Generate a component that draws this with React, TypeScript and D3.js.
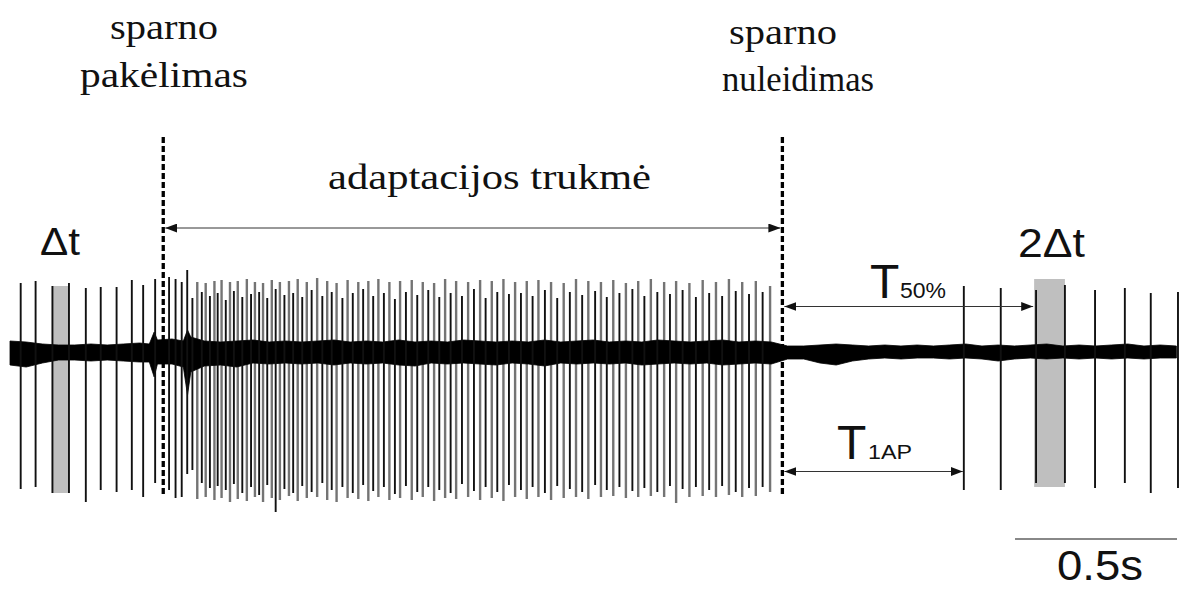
import React from "react";
import * as d3 from "d3";

// Spike train recorded around a wing lift (pakėlimas) and lowering (nuleidimas).
// Times in ms from the start of the sweep, amplitudes in µV.
const spikeTimes = [
  33, 79, 131, 182, 234, 280, 329, 376, 411, 448,
  491, 511, 530, 547, 563, 578, 592, 604, 617, 631,
  641, 653, 666, 679, 691, 703, 717, 731, 744, 756,
  769, 781, 794, 808, 820, 833, 847, 861, 874, 888,
  902, 916, 931, 948, 964, 979, 993, 1008, 1026, 1042,
  1058, 1075, 1090, 1106, 1121, 1137, 1154, 1171, 1188, 1204,
  1222, 1240, 1257, 1274, 1291, 1309, 1325, 1343, 1360, 1377,
  1395, 1414, 1432, 1451, 1468, 1487, 1504, 1523, 1540, 1559,
  1577, 1595, 1613, 1631, 1651, 1670, 1689, 1709, 1728, 1747,
  1766, 1785, 1806, 1824, 1842, 1862, 1881, 1901, 1921, 1939,
  1958, 1978, 1998, 2019, 2037, 2056, 2076, 2097, 2117, 2138,
  2158, 2179, 2198, 2219, 2240, 2260, 2281, 2302, 2323, 2346,
  2944, 3058, 3167, 3256, 3349, 3441, 3521, 3605,
];

const spikeUp = [
  138, 142, 132, 138, 128, 130, 130, 144, 134, 146,
  150, 146, 140, 164, 108, 140, 120, 138, 112, 142,
  118, 144, 104, 140, 122, 142, 110, 146, 116, 140,
  120, 138, 108, 144, 126, 140, 114, 142, 118, 146,
  110, 140, 124, 148, 112, 142, 120, 138, 108, 144,
  118, 140, 126, 142, 112, 146, 118, 140, 106, 142,
  120, 144, 114, 140, 124, 138, 110, 146, 118, 142,
  112, 140, 126, 144, 108, 142, 120, 146, 116, 140,
  118, 142, 112, 144, 124, 140, 108, 138, 120, 146,
  114, 142, 122, 140, 110, 144, 118, 138, 126, 142,
  112, 146, 120, 140, 116, 142, 124, 138, 110, 144,
  118, 140, 112, 146, 122, 140, 116, 142, 120, 132,
  132, 128, 124, 134, 124, 128, 118, 120,
];

const spikeDown = [
  -274, -270, -282, -282, -300, -276, -280, -276, -290, -262,
  -276, -292, -290, -244, -236, -294, -262, -290, -272, -296,
  -268, -292, -276, -300, -264, -294, -282, -298, -270, -290,
  -286, -300, -266, -292, -320, -296, -274, -288, -282, -298,
  -268, -292, -280, -290, -262, -296, -276, -300, -270, -292,
  -282, -294, -266, -298, -278, -290, -270, -296, -284, -292,
  -268, -296, -280, -290, -270, -298, -276, -292, -282, -294,
  -264, -290, -278, -296, -270, -292, -280, -298, -266, -290,
  -276, -294, -270, -290, -282, -296, -268, -292, -274, -290,
  -280, -294, -266, -290, -276, -288, -270, -292, -278, -290,
  -272, -288, -280, -290, -268, -302, -274, -290, -270, -288,
  -276, -290, -268, -286, -280, -290, -272, -288, -270, -280,
  -276, -276, -262, -262, -272, -262, -282, -272,
];

// A = dark unit, B = grey unit
const spikeUnit = (
  "AAAAAAAAAA" +
  "AAAAABABAB" +
  "ABABABABAB" +
  "ABABABABAB" +
  "ABABABABAB" +
  "ABABABABAB" +
  "ABABABABAB" +
  "ABABABABAB" +
  "ABABABABAB" +
  "ABABABABAB" +
  "ABABABABAB" +
  "ABABABABAB" +
  "AAAAAAAA"
).split("");

// Baseline noise envelope (ms, µV above, µV below)
const noiseTimes = [
  0, 50, 100, 150, 200, 250, 300, 350, 400, 430, 445, 455, 500, 535, 548, 558,
  600, 650, 700, 750, 800, 850, 900, 950, 1000, 1050,
  1100, 1150, 1200, 1250, 1300, 1350, 1400, 1450, 1500, 1550,
  1600, 1650, 1700, 1750, 1800, 1850, 1900, 1950, 2000, 2050,
  2100, 2150, 2200, 2250, 2300, 2350,
  2400, 2450, 2500, 2550, 2600, 2650, 2700, 2750, 2800, 2850,
  2900, 2950, 3000, 3050, 3100, 3150, 3200, 3250, 3300, 3350,
  3400, 3450, 3500, 3550, 3600,
];
const noiseHigh = [
  22, 20, 16, 14, 14, 16, 14, 16, 18, 16, 40, 24, 26, 22, 44, 30,
  22, 20, 22, 24, 20, 22, 20, 22, 24, 20,
  22, 20, 24, 20, 22, 20, 24, 22, 20, 22,
  20, 24, 20, 22, 24, 20, 22, 20, 24, 22,
  20, 22, 24, 20, 22, 20,
  12, 12, 14, 16, 14, 12, 14, 12, 14, 12,
  14, 16, 12, 14, 12, 14, 16, 12, 14, 12,
  14, 16, 12, 14, 12,
];
const noiseLow = [
  -26, -30, -22, -16, -16, -18, -16, -18, -20, -20, -50, -24, -24, -30, -86, -40,
  -28, -26, -30, -22, -24, -22, -24, -22, -26, -22,
  -24, -22, -26, -28, -22, -24, -22, -24, -26, -22,
  -24, -28, -22, -24, -22, -24, -22, -26, -24, -22,
  -24, -22, -26, -24, -22, -24,
  -14, -14, -22, -26, -18, -14, -12, -14, -12, -12,
  -14, -12, -14, -18, -14, -12, -14, -12, -14, -12,
  -14, -12, -14, -12, -12,
];

// Shaded counting windows: Δt before the lift, 2Δt after the lowering
const windowStart = [129, 3161];
const windowEnd = [182, 3256];
const windowTop = [132, 146];
const windowBottom = [-282, -270];

// Event markers (ms)
const liftTime = 473;
const lowerTime = 2384;
const firstSpikeAfter = 2944;
const halfRecoveryTime = 3158;
const scaleBarStart = 3102;
const scaleBarLength = 500;

const W = 1179;
const H = 590;

const serif = "Liberation Serif";
const sans = "Liberation Sans";

export default function App() {
  const x = d3.scaleLinear().domain([0, 3610]).range([10, 1179.6]);
  const y = d3.scaleLinear().domain([-400, 200]).range([552, 252]);

  const noiseArea = d3
    .area<number>()
    .x((_, i) => x(noiseTimes[i]))
    .y0((_, i) => y(noiseLow[i]))
    .y1((_, i) => y(noiseHigh[i]))
    .curve(d3.curveLinear);

  const spikes = spikeTimes.map((t, i) => ({
    t,
    up: spikeUp[i],
    down: spikeDown[i],
    unit: spikeUnit[i],
  }));

  const dashTop = y(430);
  const dashBottom = y(-290);

  return (
    <svg
      width={W}
      height={H}
      viewBox={`0 0 ${W} ${H}`}
      style={{ position: "absolute", left: 0, top: 0, background: "#fff" }}
    >
      <defs>
        <marker
          id="arrowHead"
          viewBox="0 0 12 9"
          refX={12}
          refY={4.5}
          markerWidth={12}
          markerHeight={9}
          markerUnits="userSpaceOnUse"
          orient="auto-start-reverse"
        >
          <path d="M0,0L12,4.5L0,9Z" fill="#111" />
        </marker>
      </defs>

      {/* counting windows */}
      {windowStart.map((s, i) => (
        <rect
          key={`w${i}`}
          x={x(s)}
          y={y(windowTop[i])}
          width={x(windowEnd[i]) - x(s)}
          height={y(windowBottom[i]) - y(windowTop[i])}
          fill="#bfbfbf"
        />
      ))}

      {/* grey unit spikes */}
      {spikes
        .filter((s) => s.unit === "B")
        .map((s, i) => (
          <line
            key={`b${i}`}
            x1={x(s.t)}
            x2={x(s.t)}
            y1={y(s.up)}
            y2={y(s.down)}
            stroke="#747474"
            strokeWidth={2.4}
          />
        ))}

      {/* baseline noise */}
      <path
        d={noiseArea(noiseTimes) || ""}
        fill="#000"
        stroke="#000"
        strokeWidth={0.8}
      />

      {/* dark unit spikes */}
      {spikes
        .filter((s) => s.unit === "A")
        .map((s, i) => (
          <line
            key={`a${i}`}
            x1={x(s.t)}
            x2={x(s.t)}
            y1={y(s.up)}
            y2={y(s.down)}
            stroke="#111"
            strokeWidth={1.9}
          />
        ))}

      {/* wing lift / lowering markers */}
      {[liftTime, lowerTime].map((t, i) => (
        <line
          key={`d${i}`}
          x1={x(t)}
          x2={x(t)}
          y1={dashTop}
          y2={dashBottom}
          stroke="#000"
          strokeWidth={3.3}
          strokeDasharray="6 3"
        />
      ))}

      {/* interval arrows */}
      <line
        x1={x(liftTime) + 2}
        x2={x(lowerTime) - 2}
        y1={y(248)}
        y2={y(248)}
        stroke="#333"
        strokeWidth={1}
        markerStart="url(#arrowHead)"
        markerEnd="url(#arrowHead)"
      />
      <line
        x1={x(lowerTime) + 2}
        x2={x(halfRecoveryTime)}
        y1={y(91)}
        y2={y(91)}
        stroke="#333"
        strokeWidth={1}
        markerStart="url(#arrowHead)"
        markerEnd="url(#arrowHead)"
      />
      <line
        x1={x(lowerTime) + 2}
        x2={x(firstSpikeAfter) - 1}
        y1={y(-239)}
        y2={y(-239)}
        stroke="#333"
        strokeWidth={1}
        markerStart="url(#arrowHead)"
        markerEnd="url(#arrowHead)"
      />

      {/* labels */}
      <g fontFamily={serif} fontSize={36} fill="#111">
        <text x={110} y={39} textLength={108} lengthAdjust="spacingAndGlyphs">
          sparno
        </text>
        <text x={80} y={87} textLength={168} lengthAdjust="spacingAndGlyphs">
          pakėlimas
        </text>
        <text x={729} y={44} textLength={108} lengthAdjust="spacingAndGlyphs">
          sparno
        </text>
        <text x={722} y={91} textLength={152} lengthAdjust="spacingAndGlyphs">
          nuleidimas
        </text>
        <text x={328} y={189} textLength={323} lengthAdjust="spacingAndGlyphs">
          adaptacijos trukmė
        </text>
      </g>

      <g fontFamily={sans} fill="#111">
        <text x={40} y={255} fontSize={38} textLength={40} lengthAdjust="spacingAndGlyphs">
          Δt
        </text>
        <text x={1018} y={257} fontSize={41} textLength={67} lengthAdjust="spacingAndGlyphs">
          2Δt
        </text>
        <text x={870} y={298} fontSize={48}>
          T
        </text>
        <text x={900} y={298} fontSize={22.5} textLength={46} lengthAdjust="spacingAndGlyphs">
          50%
        </text>
        <text x={837} y={459} fontSize={48}>
          T
        </text>
        <text x={868} y={459} fontSize={20} textLength={44} lengthAdjust="spacingAndGlyphs">
          1AP
        </text>
      </g>

      {/* time scale bar */}
      <line
        x1={x(scaleBarStart)}
        x2={x(scaleBarStart + scaleBarLength)}
        y1={539}
        y2={539}
        stroke="#888"
        strokeWidth={2}
      />
      <text
        x={1057}
        y={580}
        fontFamily={sans}
        fontSize={42}
        fill="#111"
        textLength={86}
        lengthAdjust="spacingAndGlyphs"
      >
        0.5s
      </text>
    </svg>
  );
}
